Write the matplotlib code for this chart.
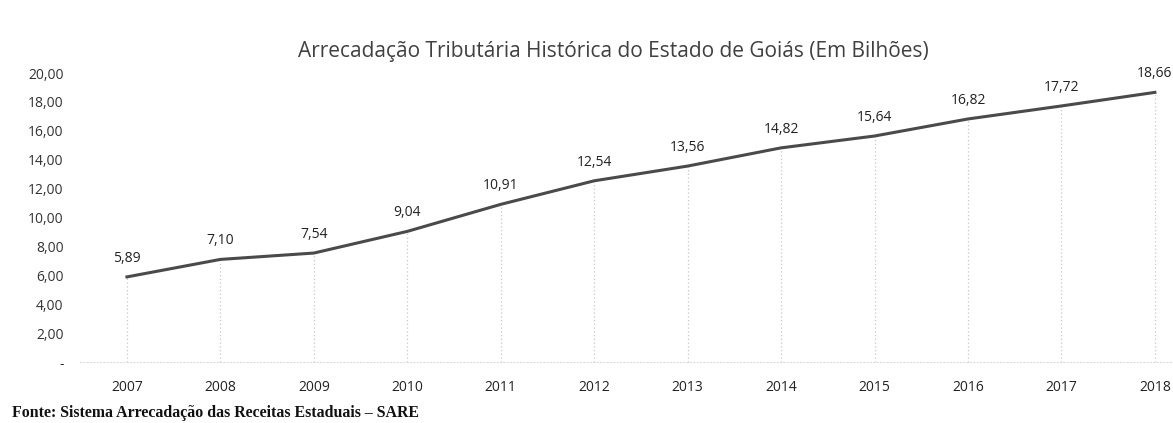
import matplotlib
matplotlib.use("Agg")
import matplotlib.pyplot as plt

anos = ["2007", "2008", "2009", "2010", "2011", "2012", "2013", "2014", "2015", "2016", "2017", "2018"]
valores = [5.89, 7.10, 7.54, 9.04, 10.91, 12.54, 13.56, 14.82, 15.64, 16.82, 17.72, 18.66]
yticks = [0, 2, 4, 6, 8, 10, 12, 14, 16, 18, 20]
titulo = "Arrecadação Tributária Histórica do Estado de Goiás (Em Bilhões)"
fonte = "Fonte: Sistema Arrecadação das Receitas Estaduais – SARE"

def fmt(v):
    if v == 0:
        return "-"
    return f"{v:.2f}".replace(".", ",")

plt.rcParams['font.family'] = ['Open Sans', 'DejaVu Sans']

fig = plt.figure(figsize=(11.73, 4.23), dpi=100)
ax = fig.add_axes([0.0684, 0.1442, 0.956, 0.6832])

x = list(range(len(anos)))
ax.vlines(x, 0, valores, colors="#c8c8c8", linestyles=(0, (1, 2)), linewidth=0.9, zorder=1)
ax.plot(x, valores, color="#4a4a4a", linewidth=2.2, zorder=3)
for xi, v in zip(x, valores):
    ax.annotate(fmt(v), (xi, v), xytext=(0, 8), textcoords="offset points",
                ha="center", va="bottom", fontsize=10, color="#222222")

ax.set_xlim(-0.5, len(anos) - 0.5)
ax.set_ylim(0, 20)
ax.set_xticks(x)
ax.set_xticklabels(anos)
ax.set_yticks(yticks)
ax.set_yticklabels([fmt(v) for v in yticks])
ax.tick_params(axis="x", length=0, pad=13, labelsize=10, labelcolor="#222222")
ax.tick_params(axis="y", length=0, pad=12, labelsize=10, labelcolor="#333333")
for s in ["top", "right", "left"]:
    ax.spines[s].set_visible(False)
ax.spines["bottom"].set_color("#dcdcdc")
ax.spines["bottom"].set_linestyle((0, (1, 2)))

fig.text(0.523, 0.879, titulo, ha="center", va="center", fontsize=15, color="#404040")
fig.text(0.010, 0.024, fonte, ha="left", va="center", fontsize=11.4, fontweight="bold",
         family=["Liberation Serif", "DejaVu Serif"], color="#111111")

fig.savefig("out.png", dpi=100)
